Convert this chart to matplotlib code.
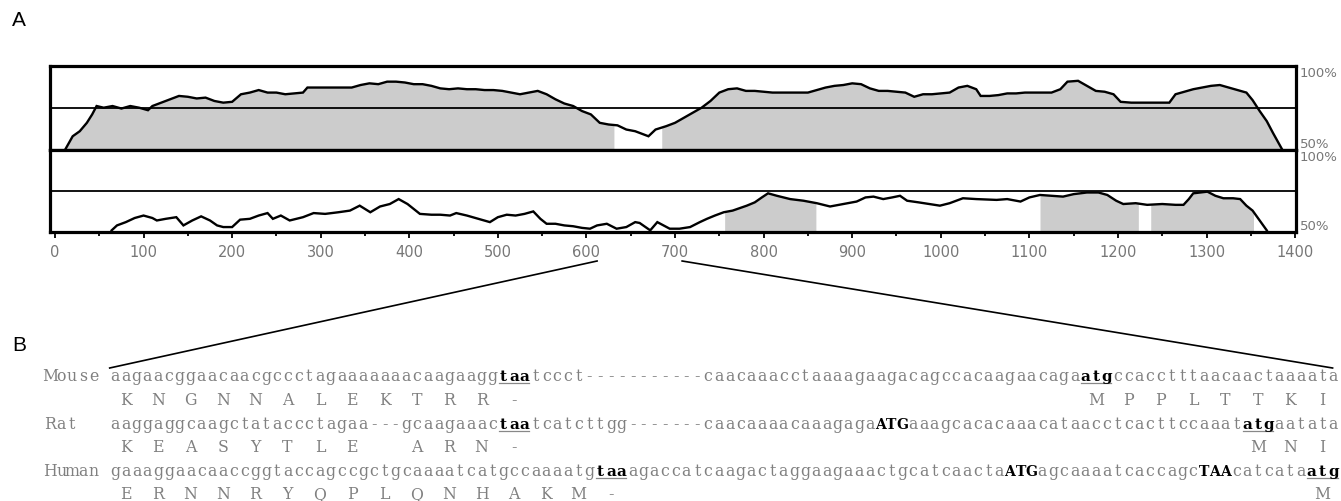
import numpy as np
import matplotlib
matplotlib.use("Agg")
import matplotlib.pyplot as plt
from matplotlib.ticker import MultipleLocator

# --- panel A: percent identity along the sequence (position, percent) ---
top_pos = [12, 20, 28, 36, 42, 47, 55, 65, 75, 85, 95, 105, 110, 120, 130, 140, 150,
           160, 170, 180, 190, 200, 210, 220, 230, 240, 250, 260, 270, 280, 285, 300,
           320, 335, 345, 355, 365, 375, 385, 395, 405, 415, 425, 435, 445, 455, 465,
           475, 485, 495, 505, 515, 525, 535, 545, 555, 565, 575, 585, 595, 605, 615,
           625, 635, 645, 655, 665, 670, 678, 690, 700, 710, 720, 730, 740, 750, 760,
           770, 780, 790, 800, 810, 830, 850, 860, 870, 880, 890, 900, 910, 920, 930,
           940, 950, 960, 970, 980, 990, 1000, 1010, 1020, 1030, 1040, 1045, 1055,
           1065, 1075, 1085, 1095, 1110, 1125, 1135, 1143, 1155, 1165, 1175, 1185,
           1195, 1203, 1215, 1230, 1245, 1258, 1265, 1275, 1285, 1295, 1305, 1315,
           1325, 1335, 1345, 1352, 1360, 1368, 1375, 1385]
top_val = [50.5, 58, 61, 66, 71, 76, 75, 76, 74.5, 76, 75, 73.5, 76, 78, 80, 82, 81.5,
           80.5, 81, 79, 78, 78.5, 83, 84, 85.5, 84, 84, 83, 83.5, 84, 87, 87,
           87, 87, 88.5, 89.5, 89, 90.5, 90.5, 90, 89, 89, 88, 86.5, 86, 86.5, 86,
           86, 85.5, 85.5, 85, 84, 83, 84, 85, 83, 80, 77.5, 76, 73, 71, 66,
           65, 64.5, 62, 61, 59, 58, 62, 64, 66, 69, 72, 75, 79, 84, 86,
           86.5, 85, 85, 84.5, 84, 84, 84, 85.5, 87, 88, 88.5, 89.5, 89, 86.5, 85,
           85, 84.5, 84, 81.5, 83, 83, 83.5, 84, 87, 88, 86, 82, 82,
           82.5, 83.5, 83.5, 84, 84, 84, 86, 90.5, 91, 88, 85, 84.5,
           83, 78.5, 78, 78, 78, 78, 83, 84.5, 86, 87, 88, 88.5,
           87, 85.5, 84, 79.5, 73, 67, 60, 50.5]
top_regions = [(12, 631), (685, 1385)]

bot_pos = [64, 70, 80, 90, 100, 110, 115, 125, 137, 145, 155, 165, 175, 183, 190, 200,
           209, 220, 230, 240, 246, 255, 265, 280, 292, 305, 320, 333, 344, 356, 367,
           378, 388, 398, 412, 425, 435, 446, 453, 465, 478, 491, 500, 510, 520, 530,
           540, 548, 555, 565, 575, 585, 595, 604, 612, 623, 634, 645, 655, 660, 672,
           680, 694, 705, 717, 728, 736, 745, 755, 765, 781, 790, 798, 805, 815, 830,
           845, 860, 875, 890, 905, 915, 924, 935, 945, 954, 962, 975, 987, 999, 1010,
           1025, 1040, 1063, 1075, 1090, 1100, 1112, 1125, 1138, 1150, 1165, 1178,
           1188, 1198, 1206, 1220, 1233, 1250, 1265, 1274, 1280, 1285, 1301, 1310,
           1319, 1330, 1338, 1345, 1352, 1360, 1368]
bot_val = [51, 54, 56, 58.5, 60, 58.5, 57, 58, 59, 54, 57, 59.5, 57, 54, 53, 53,
           57.5, 58, 60, 61.5, 58, 60, 57, 59, 61.5, 61, 62, 63, 66, 62, 65.5,
           67, 70, 67, 61, 60.5, 60.5, 60, 61.5, 60, 58, 56, 59, 60.5, 60, 61,
           62.5, 58, 55, 55, 54, 53.5, 52.5, 52, 54, 55, 52, 53, 56, 55.5, 51,
           56, 52, 52, 53, 56, 58, 60, 62, 63, 66, 68, 71, 73.5, 72, 70,
           69, 67.5, 65.5, 67, 68.5, 71, 71.5, 70, 71, 72, 69, 68, 67, 66, 67.5,
           70.5, 70, 69.5, 70, 68.5, 71, 72.5, 72, 71.5, 73, 74, 74,
           72.5, 69, 67, 67.5, 66.5, 67, 66.5, 66.5, 70, 73.5, 74.5, 72,
           70.5, 70.5, 70, 66, 63, 57, 51]
bot_regions = [(756, 859), (1112, 1223), (1237, 1353)]

ticks = list(range(0, 1401, 100))
zoom_span = (612, 708)

# --- panel B: alignment (text, bold, underline) ---
mouse_seq = [("aagaacggaacaacgccctagaaaaaaacaagaagg", 0, 0), ("taa", 1, 1),
             ("tccct-----------caacaaacctaaaagaagacagccacaagaacaga", 0, 0),
             ("atg", 1, 1), ("ccacctttaacaactaaaata", 0, 0)]
rat_seq = [("aaggaggcaagctataccctagaa---gcaagaaac", 0, 0), ("taa", 1, 1),
           ("tcatcttgg-------caacaaaacaaagaga", 0, 0), ("ATG", 1, 0),
           ("aaagcacacaaacataacctcacttccaaat", 0, 0), ("atg", 1, 1), ("aatata", 0, 0)]
human_seq = [("gaaaggaacaaccggtaccagccgctgcaaaatcatgccaaaatg", 0, 0), ("taa", 1, 1),
             ("agaccatcaagactaggaagaaactgcatcaacta", 0, 0), ("ATG", 1, 0),
             ("agcaaaatcaccagc", 0, 0), ("TAA", 1, 0), ("catcata", 0, 0), ("atg", 1, 1)]
mouse_aa = [(1, "KNGNNALEKTRR-"), (91, "MPPLTTKI")]
rat_aa = [(1, "KEASYTLE"), (28, "ARN-"), (106, "MNI")]
human_aa = [(1, "ERNNRYQPLQNHAKM-"), (112, "M")]
species = ["Mouse", "Rat", "Human"]

GRAY = "#cccccc"
TXT = "#808080"
W_PX, H_PX = 1341, 502

fig = plt.figure(figsize=(W_PX / 100, H_PX / 100), dpi=100)


def fax(x0, y0, x1, y1):
    """axes rect from pixel box (top-left origin)"""
    return fig.add_axes([x0 / W_PX, 1 - y1 / H_PX, (x1 - x0) / W_PX, (y1 - y0) / H_PX])


ax_top = fax(50, 66.7, 1296, 150.7)
ax_bot = fax(50, 150.7, 1296, 233)


def draw_panel(ax, pos, val, regions):
    pos = np.array(pos, dtype=float)
    val = np.array(val, dtype=float)
    for a, b in regions:
        inside = (pos > a) & (pos < b)
        xs = np.concatenate([[a], pos[inside], [b]])
        ys = np.concatenate([[np.interp(a, pos, val)], val[inside], [np.interp(b, pos, val)]])
        ax.fill_between(xs, 50, ys, color=GRAY, lw=0)
    ax.axhline(75, color="black", lw=1.3)
    ax.plot(pos, val, color="black", lw=1.7, solid_joinstyle="miter")
    ax.set_xlim(-5.6, 1401)
    ax.set_ylim(50, 100)
    ax.set_yticks([])
    for s in ax.spines.values():
        s.set_linewidth(2.3)
    ax.text(1.003, 100, "100%", transform=ax.get_yaxis_transform(), ha="left",
            va="top", fontsize=9.5, color="#777777")
    ax.text(1.003, 50, "50%", transform=ax.get_yaxis_transform(), ha="left",
            va="bottom", fontsize=9.5, color="#777777")


draw_panel(ax_top, top_pos, top_val, top_regions)
draw_panel(ax_bot, bot_pos, bot_val, bot_regions)
ax_top.set_xticks([])
ax_bot.set_xticks(ticks)
ax_bot.xaxis.set_minor_locator(MultipleLocator(50))
ax_bot.tick_params(axis="x", which="major", direction="out", length=4.5, width=1.3,
                   pad=4, labelsize=10.5, labelcolor="#777777")
ax_bot.tick_params(axis="x", which="minor", direction="out", length=3, width=1.3)

# overlay in pixel coordinates for the labels, zoom lines and alignment text
ov = fig.add_axes([0, 0, 1, 1], facecolor="none")
ov.set_xlim(0, W_PX)
ov.set_ylim(H_PX, 0)
ov.axis("off")

ov.text(12, 21, "A", fontsize=15, family="Liberation Sans", ha="left", va="center")
ov.text(12, 346, "B", fontsize=15, family="Liberation Sans", ha="left", va="center")

x0, cw = 45, 10.78
row_y = [376, 400, 424, 447, 471, 494]
seqfont = "DejaVu Serif"
fs = 11.3


def col_x(c):
    return x0 + (c + 0.5) * cw


def put_row(segments, y, label):
    base = y + 5
    for i, ch in enumerate(label):
        ov.text(col_x(i), base, ch, family=seqfont, fontsize=fs, color=TXT,
                ha="center", va="baseline")
    c = 6
    for seg, bold, under in segments:
        # bold capitals are wide, shrink them a little to stay in their cells
        bfs = fs - 1.2 if seg.isupper() else fs - 0.3
        for k, ch in enumerate(seg):
            ov.text(col_x(c + k), base, ch, family=seqfont,
                    fontsize=bfs if bold else fs,
                    color="black" if bold else TXT,
                    fontweight="bold" if bold else "normal",
                    ha="center", va="baseline")
        if under:
            ov.plot([x0 + c * cw + 1, x0 + (c + len(seg)) * cw - 1], [base + 2.5] * 2,
                    color="#888888", lw=0.9)
        c += len(seg)


def put_aa(aa, y):
    base = y + 5
    for start, letters in aa:
        for k, ch in enumerate(letters):
            ov.text(col_x(6 + start + 3 * k), base, ch, family=seqfont, fontsize=fs,
                    color=TXT, ha="center", va="baseline")


put_row(mouse_seq, row_y[0], species[0])
put_aa(mouse_aa, row_y[1])
put_row(rat_seq, row_y[2], species[1])
put_aa(rat_aa, row_y[3])
put_row(human_seq, row_y[4], species[2])
put_aa(human_aa, row_y[5])

# zoom lines from the axis to the alignment ends
fig.canvas.draw()
xa = ax_bot.transData.transform((zoom_span[0], 50))[0]
xb = ax_bot.transData.transform((zoom_span[1], 50))[0]
ov.plot([xa, x0 + 6 * cw], [262, 369], color="black", lw=1.2)
ov.plot([xb, x0 + 120 * cw - 6], [262, 369], color="black", lw=1.2)

fig.savefig("out.png", dpi=100)
